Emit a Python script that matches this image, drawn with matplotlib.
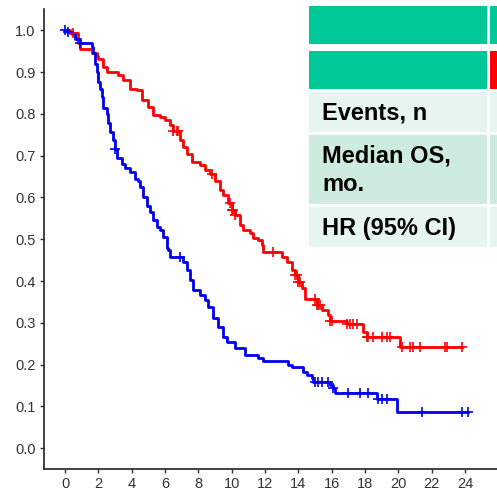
import numpy as np
import matplotlib
matplotlib.use("Agg")
import matplotlib.pyplot as plt
from matplotlib.patches import Rectangle

# Kaplan-Meier step data: event times (months) and survival after each event
red_t = [0, 0.3, 0.8, 0.9, 1.6, 1.9, 2.0, 2.3, 2.5, 3.2, 3.5, 3.9, 4.3, 4.6, 5.0,
         5.3, 5.7, 6.0, 6.3, 6.5, 6.9, 7.1, 7.3, 7.6, 8.1, 8.4, 8.7, 9.0, 9.3, 9.5,
         9.8, 10.0, 10.2, 10.5, 10.7, 11.1, 11.3, 11.6, 11.8, 11.9, 13.0, 13.3,
         13.6, 13.8, 14.0, 14.2, 14.4, 15.1, 15.4, 15.8, 15.9, 16.9, 17.9, 18.1,
         20.1]
red_s = [1.0, 0.993, 0.97, 0.955, 0.945, 0.938, 0.93, 0.912, 0.90, 0.893, 0.88,
         0.86, 0.857, 0.833, 0.816, 0.797, 0.793, 0.785, 0.773, 0.76, 0.737, 0.72,
         0.705, 0.685, 0.677, 0.665, 0.657, 0.64, 0.618, 0.605, 0.586, 0.57, 0.558,
         0.534, 0.522, 0.514, 0.503, 0.498, 0.486, 0.469, 0.457, 0.445, 0.426,
         0.414, 0.398, 0.383, 0.358, 0.343, 0.331, 0.319, 0.304, 0.297, 0.278,
         0.266, 0.242]

blue_t = [0, 0.1, 0.4, 0.6, 0.9, 1.6, 1.7, 1.8, 1.9, 2.0, 2.1, 2.2, 2.3, 2.5, 2.6,
          2.7, 2.9, 3.0, 3.1, 3.4, 3.6, 3.9, 4.2, 4.4, 4.5, 4.7, 4.9, 5.1, 5.3,
          5.5, 5.7, 5.9, 6.1, 6.2, 6.3, 7.1, 7.3, 7.5, 7.7, 8.1, 8.4, 8.6, 8.9,
          9.2, 9.5, 9.7, 10.2, 10.8, 11.6, 11.9, 13.4, 13.6, 14.3, 14.5, 14.8,
          14.9, 15.9, 16.1, 16.2, 18.7, 19.9]
blue_s = [1.0, 0.995, 0.99, 0.98, 0.97, 0.96, 0.945, 0.92, 0.90, 0.876, 0.86, 0.84,
          0.813, 0.80, 0.777, 0.757, 0.737, 0.717, 0.694, 0.68, 0.67, 0.66, 0.645,
          0.64, 0.625, 0.60, 0.58, 0.565, 0.546, 0.53, 0.522, 0.506, 0.48, 0.474,
          0.458, 0.445, 0.426, 0.402, 0.379, 0.367, 0.355, 0.338, 0.312, 0.29,
          0.266, 0.254, 0.24, 0.224, 0.217, 0.209, 0.20, 0.194, 0.182, 0.175,
          0.168, 0.159, 0.151, 0.144, 0.132, 0.118, 0.087]

# Censoring times (months)
red_cens = [0.5, 6.5, 6.7, 6.8, 8.8, 9.9, 10.0, 10.1, 10.2, 12.5, 13.8, 13.9, 14.0,
            14.1, 15.0, 15.1, 15.2, 15.3, 15.9, 16.0, 16.9, 17.1, 17.3, 17.5, 18.1,
            18.2, 18.5, 19.0, 19.3, 19.5, 20.2, 20.7, 20.9, 21.3, 22.8, 22.9, 23.8]
blue_cens = [0.0, 0.2, 0.9, 3.0, 6.9, 15.0, 15.2, 15.4, 15.8, 16.1, 17.0, 17.7,
             18.2, 18.8, 19.0, 19.3, 21.4, 23.8, 24.2]

x_ticks = list(range(0, 25, 2))
y_ticks = [0.0, 0.1, 0.2, 0.3, 0.4, 0.5, 0.6, 0.7, 0.8, 0.9, 1.0]

row_labels = ["Events, n", "Median OS,\nmo.", "HR (95% CI)"]

RED = "#FF0000"
BLUE = "#0000EE"
GREEN = "#00C896"
LIGHT = "#E6F5EF"
MID = "#CDEBDF"

plt.rcParams["font.family"] = ["Liberation Sans", "DejaVu Sans"]

W, H = 497, 492
fig = plt.figure(figsize=(W / 100, H / 100), dpi=100)
ax = fig.add_axes([44 / W, 1 - 469 / H, 1 - 44 / W, (469 - 9) / H])


def step_value(times, surv, t):
    idx = np.searchsorted(times, t, side="right") - 1
    return np.asarray(surv)[idx]


for times, surv, cens, col in [(red_t, red_s, red_cens, RED),
                               (blue_t, blue_s, blue_cens, BLUE)]:
    end = max(cens)
    tt = list(times) + [end]
    ss = list(surv) + [surv[-1]]
    ax.plot(tt, ss, drawstyle="steps-post", color=col, lw=2.0, zorder=3)
    ax.plot(cens, step_value(times, surv, np.array(cens)), ls="none",
            marker="+", ms=7, mew=1.2, color=col, zorder=4)

ax.set_xlim(-21 / 16.667, (W - 65) / 16.667)
ax.set_ylim(-0.0495, 1.0507)
ax.set_xticks(x_ticks)
ax.set_yticks(y_ticks)
ax.set_xticklabels([str(v) for v in x_ticks])
ax.set_yticklabels([f"{v:.1f}" for v in y_ticks])
ax.tick_params(colors="#333333", labelcolor="#333333", labelsize=10.5,
               length=3, width=1, pad=3)
for side in ["top", "right"]:
    ax.spines[side].set_visible(False)
for side in ["left", "bottom"]:
    ax.spines[side].set_linewidth(1.2)
    ax.spines[side].set_color("#222222")

# Summary table overlaid at the upper right
ov = fig.add_axes([0, 0, 1, 1], zorder=10)
ov.set_xlim(0, W)
ov.set_ylim(H, 0)
ov.axis("off")

col_x = [(309, 487), (490, 520)]
rows = [(6, 44), (51, 89), (92, 132), (135, 204), (207, 247)]
fills = [[GREEN, GREEN], [GREEN, RED], [LIGHT, LIGHT], [MID, MID], [LIGHT, LIGHT]]
for (y0, y1), fill in zip(rows, fills):
    for (x0, x1), fc in zip(col_x, fill):
        ov.add_patch(Rectangle((x0, y0), x1 - x0, y1 - y0, facecolor=fc,
                               edgecolor="none"))

for (y0, y1), label in zip(rows[2:], row_labels):
    ov.text(322, (y0 + y1) / 2 + 1, label, ha="left", va="center",
            fontsize=17, fontweight="bold", color="#000000", linespacing=1.3)

fig.savefig("out.png", dpi=100)
